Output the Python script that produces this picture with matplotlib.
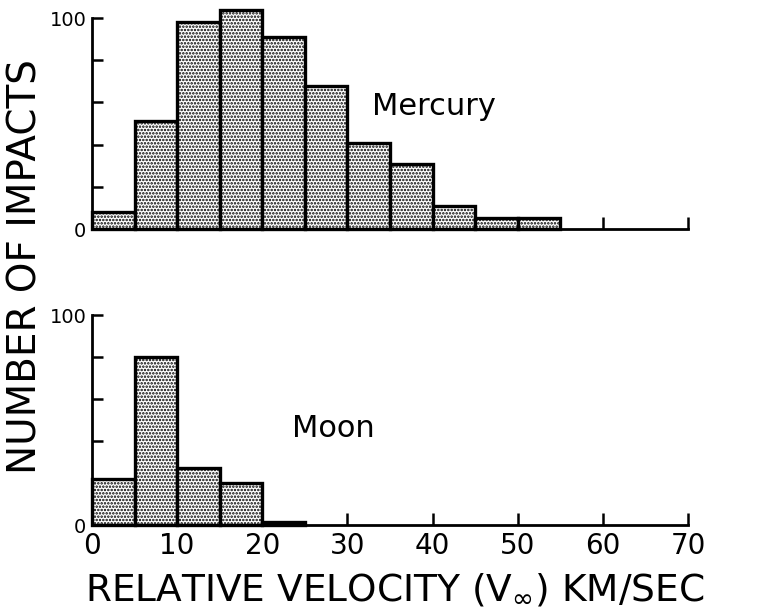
import matplotlib.pyplot as plt
import numpy as np

# Histogram data, 5 km/s bins
bin_edges = [0, 5, 10, 15, 20, 25, 30, 35, 40, 45, 50, 55]
mercury_counts = [8, 51, 98, 104, 91, 68, 41, 31, 11, 5, 5]
moon_bin_edges = [0, 5, 10, 15, 20, 25]
moon_counts = [22, 80, 27, 20, 1.5]

x_ticks = [0, 10, 20, 30, 40, 50, 60, 70]
y_ticks = [0, 20, 40, 60, 80, 100]
y_tick_labels = ['0', '', '', '', '', '100']

plt.rcParams['hatch.linewidth'] = 1.2
plt.rcParams['font.family'] = ['DejaVu Sans']
plt.rcParams['mathtext.fontset'] = 'dejavusans'


def draw_hist(ax, edges, counts, name, name_xy):
    lefts = np.array(edges[:-1])
    widths = np.diff(edges)
    ax.bar(lefts, counts, width=widths, align='edge', facecolor='white',
           edgecolor='black', linewidth=2.4, hatch='.....', clip_on=False,
           zorder=3)
    ax.set_xlim(0, 70)
    ax.set_ylim(0, 100)
    for side in ['top', 'right']:
        ax.spines[side].set_visible(False)
    for side in ['left', 'bottom']:
        ax.spines[side].set_linewidth(2)
    ax.set_yticks(y_ticks)
    ax.set_yticklabels(y_tick_labels, fontsize=14)
    ax.tick_params(axis='y', direction='in', length=8, width=1.8, pad=4)
    ax.set_xticks(x_ticks)
    ax.tick_params(axis='x', direction='in', length=9, width=1.8)
    ax.text(name_xy[0], name_xy[1], name, fontsize=22)


fig = plt.figure(figsize=(7.58, 6.15), dpi=100)
ax_top = fig.add_axes([0.1214, 0.6276, 0.7863, 0.3431])
ax_bot = fig.add_axes([0.1214, 0.1463, 0.7863, 0.3415])

draw_hist(ax_top, bin_edges, mercury_counts, 'Mercury', (32.9, 54))
ax_top.set_xticklabels([])

draw_hist(ax_bot, moon_bin_edges, moon_counts, 'Moon', (23.5, 42))
ax_bot.set_xticklabels([str(t) for t in x_ticks], fontsize=20)
ax_bot.tick_params(axis='x', pad=5)

fig.text(0.034, 0.566, 'NUMBER OF IMPACTS', rotation=90, ha='center',
         va='center', fontsize=28)
fig.text(0.521, 0.04, r'RELATIVE VELOCITY (V$_{\infty}$) KM/SEC',
         ha='center', va='center', fontsize=27)

fig.savefig('out.png', dpi=100)
